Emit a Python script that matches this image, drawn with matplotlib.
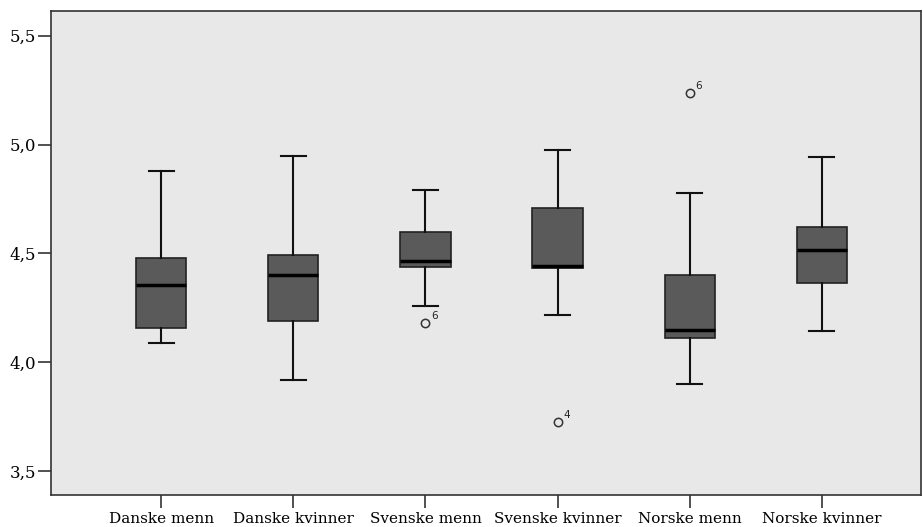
import matplotlib
matplotlib.use('Agg')
import matplotlib.pyplot as plt
from matplotlib.ticker import FuncFormatter

groups = ['Danske menn', 'Danske kvinner', 'Svenske menn',
          'Svenske kvinner', 'Norske menn', 'Norske kvinner']
whislo = [4.087, 3.920, 4.260, 4.217, 3.902, 4.144]
q1 = [4.159, 4.188, 4.437, 4.432, 4.112, 4.364]
med = [4.355, 4.403, 4.466, 4.443, 4.148, 4.515]
q3 = [4.478, 4.493, 4.599, 4.709, 4.403, 4.623]
whishi = [4.878, 4.948, 4.792, 4.976, 4.777, 4.945]
# outliers: (group index, value, case label)
out_group = [2, 3, 4]
out_value = [4.179, 3.726, 5.238]
out_label = ['6', '4', '6']
yticks = [3.5, 4.0, 4.5, 5.0, 5.5]

stats = []
for i, g in enumerate(groups):
    fl = [v for gi, v in zip(out_group, out_value) if gi == i]
    stats.append({'label': g, 'whislo': whislo[i], 'q1': q1[i], 'med': med[i],
                  'q3': q3[i], 'whishi': whishi[i], 'fliers': fl})

fig = plt.figure(figsize=(9.23, 5.27), dpi=100)
ax = fig.add_axes([51 / 923, 31.7 / 527, 870 / 923, 484.3 / 527])
ax.set_facecolor('#e8e8e8')

ax.bxp(stats, positions=range(len(groups)), widths=0.38, patch_artist=True,
       boxprops=dict(facecolor='#5a5a5a', edgecolor='#222222', linewidth=1.2),
       medianprops=dict(color='black', linewidth=2.5),
       whiskerprops=dict(color='#111111', linewidth=1.5),
       capprops=dict(color='#111111', linewidth=1.5),
       capwidths=0.19,
       flierprops=dict(marker='o', markersize=6, markerfacecolor='none',
                       markeredgecolor='#333333', markeredgewidth=1.1))

for gi, v, lab in zip(out_group, out_value, out_label):
    ax.annotate(lab, (gi, v), xytext=(4, 3), textcoords='offset points',
                fontsize=7.5, family='DejaVu Sans', color='#222222')

ax.set_xlim(-0.835, 5.751)
ax.set_ylim(3.389, 5.614)
ax.set_yticks(yticks)
ax.yaxis.set_major_formatter(FuncFormatter(lambda v, p: f'{v:.1f}'.replace('.', ',')))
ax.set_xticks(range(len(groups)))
ax.set_xticklabels(groups)

for lab in ax.get_xticklabels():
    lab.set_family('DejaVu Serif')
    lab.set_fontsize(11)
for lab in ax.get_yticklabels():
    lab.set_family('DejaVu Serif')
    lab.set_fontsize(12)

ax.tick_params(axis='y', length=9.5, width=1.2, color='#333333', pad=1)
ax.tick_params(axis='x', length=9, width=1.2, color='#333333', pad=3)
for side in ['left', 'bottom', 'top', 'right']:
    ax.spines[side].set_color('#333333')
    ax.spines[side].set_linewidth(1.2)

fig.savefig('out.png', dpi=100)
